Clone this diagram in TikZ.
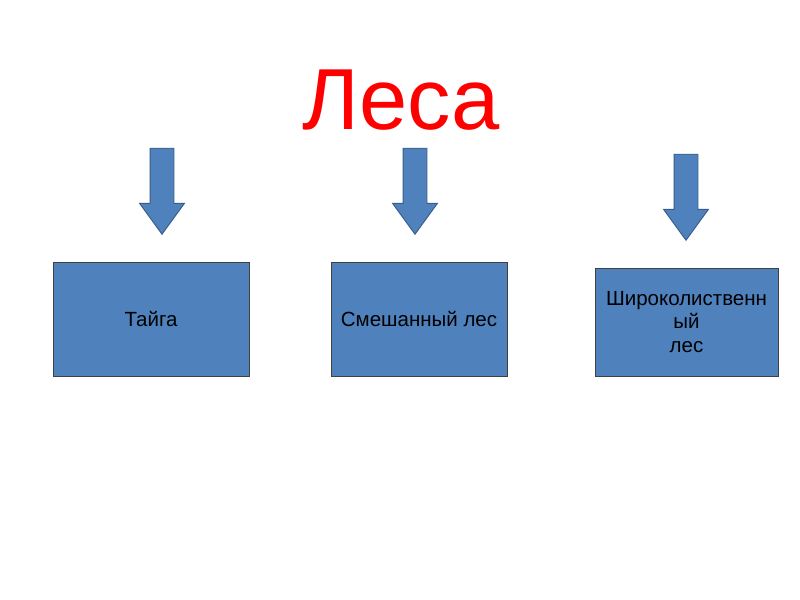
\documentclass[tikz,border=0pt]{standalone}
\usepackage{fontspec}
\setmainfont{Liberation Sans}
\usetikzlibrary{shapes.arrows}
\definecolor{lesFill}{RGB}{79,129,189}
\definecolor{lesLine}{RGB}{56,93,138}
\definecolor{lesTitle}{RGB}{255,0,0}
\tikzset{
  lesbox/.style={
    draw=black!75,
    line width=0.6pt,
    fill=lesFill,
    align=center,
    inner sep=0pt,
    font=\fontsize{17.5}{20}\selectfont
  },
  lesarrow/.style={
    single arrow,
    draw=lesLine,
    line width=0.8pt,
    fill=lesFill,
    rotate=-90,
    minimum height=2.58cm,
    single arrow head extend=0.315cm,
    single arrow tip angle=72,
    inner xsep=0pt,
    inner ysep=0.345cm
  }
}
\begin{document}
\begin{tikzpicture}[x=0.03cm,y=-0.03cm]
  \useasboundingbox[fill=white] (0,0) rectangle (800,600);

  \node[lesTitle, anchor=base, font=\fontsize{74}{80}\selectfont] (title) at (401,130) {Леса};

  \node[lesarrow] (a1) at (162,183) {};
  \node[lesarrow] (a2) at (415,183) {};
  \node[lesarrow] (a3) at (686,189) {};

  \node[lesbox, minimum width=5.88cm, minimum height=3.42cm] (taiga) at (151,319) {Тайга};
  \node[lesbox, minimum width=5.28cm, minimum height=3.42cm] (mixed) at (419,319) {Смешанный лес};
  \node[lesbox, minimum width=5.49cm, minimum height=3.24cm] (broad) at (686.5,322)
    {Широколиственн\\ый\\лес};
\end{tikzpicture}
\end{document}
